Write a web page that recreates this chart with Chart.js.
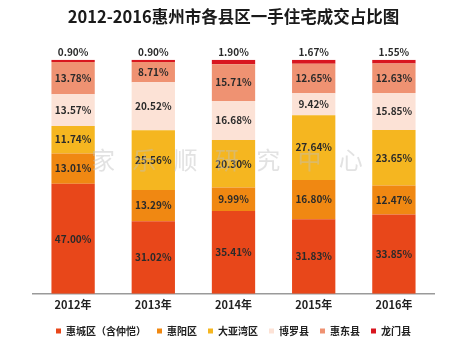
<!DOCTYPE html>
<html>
<head>
<meta charset="utf-8">
<script src="https://cdn.jsdelivr.net/npm/chart.js@4/dist/chart.umd.min.js"></script>
<style>
body{margin:0;background:#fff}
#wrap{width:474px;height:352px}
</style>
</head>
<body>
<div id="wrap"><canvas id="barChart"></canvas></div>
<script>
var years = ['2012年','2013年','2014年','2015年','2016年']
var huicheng = [47.00,31.02,35.41,31.83,33.85]
var huiyang = [13.01,13.29,9.99,16.80,12.47]
var dayawan = [11.74,25.56,20.30,27.64,23.65]
var boluo = [13.57,20.52,16.68,9.42,15.85]
var huidong = [13.78,8.71,15.71,12.65,12.63]
var longmen = [0.90,0.90,1.90,1.67,1.55]

var fontFam = '"Noto Sans CJK SC","Noto Sans",sans-serif'

// labels on each segment, top one goes above the bar
const segLabels = {
	id:'segLabels',
	afterDatasetsDraw(chart){
		var ctx = chart.ctx
		var n = chart.data.datasets.length
		ctx.save()
		ctx.font = 'bold 10px '+fontFam
		ctx.fillStyle = '#2a2a2a'
		ctx.textAlign = 'center'
		ctx.textBaseline = 'middle'
		chart.data.datasets.forEach(function(ds,i){
			var meta = chart.getDatasetMeta(i)
			meta.data.forEach(function(bar,j){
				var txt = ds.data[j].toFixed(2)+'%'
				if (i == n-1) {
					ctx.fillText(txt,bar.x,bar.y-8)
				} else {
					ctx.fillText(txt,bar.x,(bar.y+bar.base)/2)
				}
			})
		})
		// faint watermark
		ctx.font = '24px '+fontFam
		ctx.fillStyle = 'rgba(190,190,190,0.45)'
		var wm = ['家','乐','顺','研','究','中','心']
		var a = chart.chartArea
		var step = (a.right-a.left)*0.103
		wm.forEach(function(c,k){
			ctx.fillText(c,a.left+70+k*step,a.top+100)
		})
		ctx.restore()
	}
}

new Chart(document.getElementById('barChart'),{
	type:'bar',
	data:{
		labels:years,
		datasets:[
			{label:'惠城区（含仲恺）',data:huicheng,backgroundColor:'#E8471A'},
			{label:'惠阳区',data:huiyang,backgroundColor:'#F08812'},
			{label:'大亚湾区',data:dayawan,backgroundColor:'#F5B620'},
			{label:'博罗县',data:boluo,backgroundColor:'#FCE2D6'},
			{label:'惠东县',data:huidong,backgroundColor:'#EF9272'},
			{label:'龙门县',data:longmen,backgroundColor:'#D8161F'}
		]
	},
	options:{
		responsive:true,
		maintainAspectRatio:false,
		animation:false,
		datasets:{bar:{barPercentage:0.54,categoryPercentage:1}},
		layout:{padding:{left:33,right:40,top:0,bottom:6}},
		scales:{
			x:{
				stacked:true,
				grid:{display:false,drawTicks:false},
				border:{color:'#9a9a9a',width:1.5},
				ticks:{color:'#222',padding:4,font:{family:fontFam,size:11,weight:'bold'}}
			},
			y:{stacked:true,display:false,min:0,max:100}
		},
		plugins:{
			title:{
				display:true,
				text:'2012-2016惠州市各县区一手住宅成交占比图',
				color:'#1a1a1a',
				font:{family:fontFam,size:16.5,weight:'bold'},
				padding:{top:7,bottom:33}
			},
			legend:{
				position:'bottom',
				labels:{
					usePointStyle:true,
					pointStyle:'rect',
					boxWidth:5,
					boxHeight:5,
					padding:11,
					color:'#222',
					font:{family:fontFam,size:10,weight:'bold'}
				}
			},
			tooltip:{enabled:false}
		}
	},
	plugins:[segLabels]
})
</script>
</body>
</html>
